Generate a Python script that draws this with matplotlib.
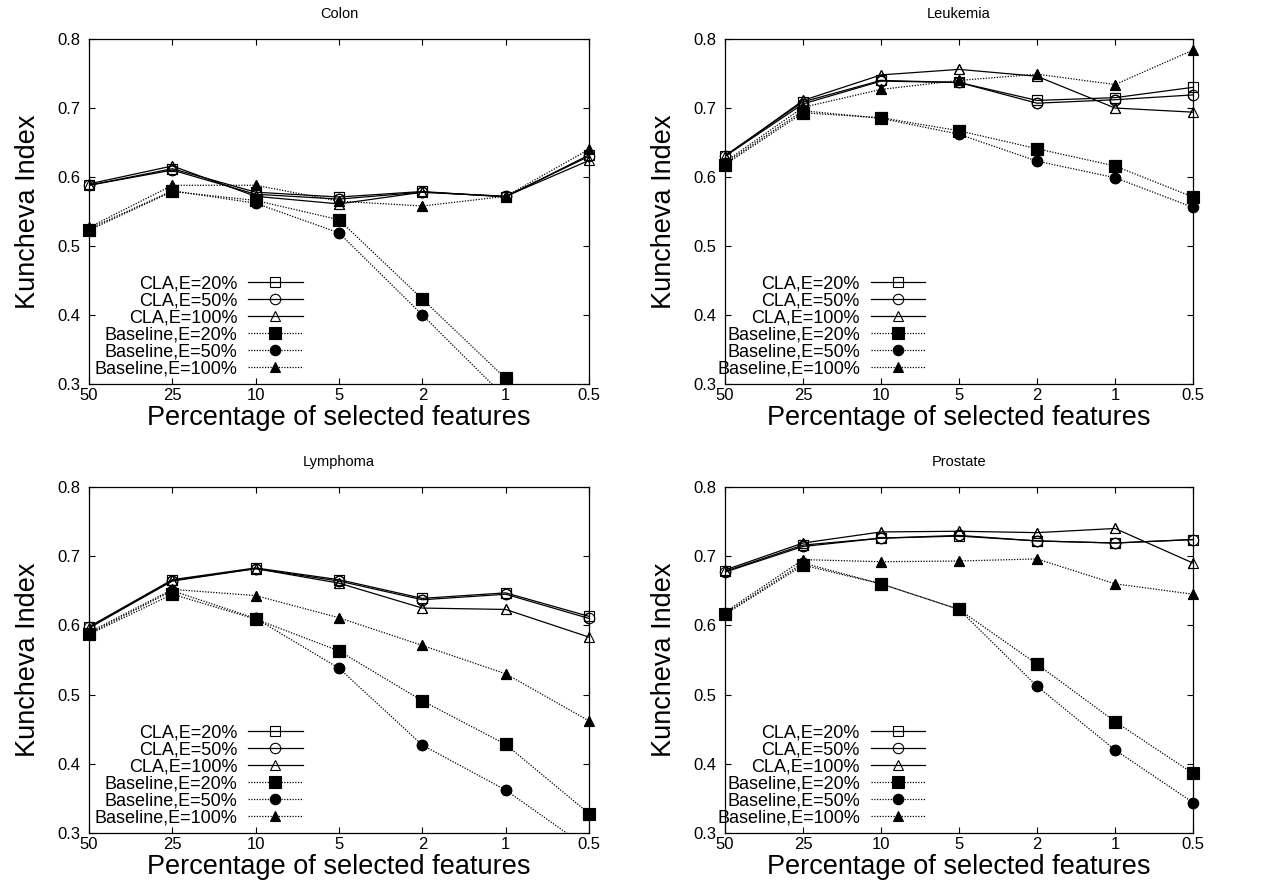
import matplotlib
matplotlib.use('Agg')
import matplotlib.pyplot as plt

plt.rcParams['font.family'] = ['Liberation Sans', 'DejaVu Sans']

# x axis: percentage of selected features
pct_labels = ['50', '25', '10', '5', '2', '1', '0.5']

series_labels = ['CLA,E=20%', 'CLA,E=50%', 'CLA,E=100%',
                 'Baseline,E=20%', 'Baseline,E=50%', 'Baseline,E=100%']

# Colon
colon_cla20 = [0.588, 0.612, 0.578, 0.571, 0.579, 0.571, 0.632]
colon_cla50 = [0.588, 0.610, 0.575, 0.568, 0.578, 0.572, 0.630]
colon_cla100 = [0.590, 0.616, 0.572, 0.561, 0.578, 0.572, 0.624]
colon_base20 = [0.523, 0.579, 0.566, 0.538, 0.423, 0.308, 0.210]
colon_base50 = [0.525, 0.580, 0.562, 0.519, 0.400, 0.280, 0.180]
colon_base100 = [0.527, 0.588, 0.588, 0.565, 0.558, 0.572, 0.640]

# Leukemia
leuk_cla20 = [0.631, 0.709, 0.740, 0.737, 0.711, 0.715, 0.730]
leuk_cla50 = [0.630, 0.706, 0.739, 0.737, 0.707, 0.712, 0.719]
leuk_cla100 = [0.630, 0.711, 0.748, 0.756, 0.746, 0.700, 0.694]
leuk_base20 = [0.618, 0.693, 0.686, 0.667, 0.641, 0.616, 0.571]
leuk_base50 = [0.620, 0.696, 0.685, 0.662, 0.623, 0.599, 0.556]
leuk_base100 = [0.622, 0.701, 0.727, 0.740, 0.749, 0.734, 0.784]

# Lymphoma
lymph_cla20 = [0.598, 0.666, 0.683, 0.666, 0.639, 0.647, 0.613]
lymph_cla50 = [0.597, 0.664, 0.682, 0.664, 0.637, 0.645, 0.610]
lymph_cla100 = [0.596, 0.665, 0.682, 0.661, 0.625, 0.623, 0.583]
lymph_base20 = [0.587, 0.645, 0.609, 0.563, 0.491, 0.428, 0.328]
lymph_base50 = [0.588, 0.650, 0.610, 0.538, 0.427, 0.362, 0.277]
lymph_base100 = [0.590, 0.652, 0.643, 0.611, 0.571, 0.530, 0.462]

# Prostate
prost_cla20 = [0.678, 0.716, 0.726, 0.729, 0.722, 0.719, 0.724]
prost_cla50 = [0.677, 0.714, 0.726, 0.730, 0.722, 0.719, 0.724]
prost_cla100 = [0.680, 0.719, 0.735, 0.736, 0.734, 0.740, 0.690]
prost_base20 = [0.616, 0.687, 0.660, 0.623, 0.544, 0.461, 0.386]
prost_base50 = [0.617, 0.690, 0.660, 0.623, 0.512, 0.420, 0.344]
prost_base100 = [0.619, 0.695, 0.692, 0.693, 0.696, 0.660, 0.645]

panels = [
    ('Colon', [colon_cla20, colon_cla50, colon_cla100, colon_base20, colon_base50, colon_base100]),
    ('Leukemia', [leuk_cla20, leuk_cla50, leuk_cla100, leuk_base20, leuk_base50, leuk_base100]),
    ('Lymphoma', [lymph_cla20, lymph_cla50, lymph_cla100, lymph_base20, lymph_base50, lymph_base100]),
    ('Prostate', [prost_cla20, prost_cla50, prost_cla100, prost_base20, prost_base50, prost_base100]),
]

# marker, filled, markersize, linestyle
styles = [
    ('s', False, 7.5, '-'),
    ('o', False, 7.5, '-'),
    ('^', False, 7.5, '-'),
    ('s', True, 8.5, (0, (1, 1.2))),
    ('o', True, 7.5, (0, (1, 1.2))),
    ('^', True, 7.5, (0, (1, 1.2))),
]

# axes rectangles in figure fractions (left, bottom, width, height)
rects = [
    (0.0701, 0.5700, 0.3937, 0.3863),
    (0.5709, 0.5700, 0.3685, 0.3863),
    (0.0701, 0.0672, 0.3937, 0.3875),
    (0.5709, 0.0672, 0.3685, 0.3875),
]

YMIN, YMAX = 0.3, 0.8

fig = plt.figure(figsize=(12.7, 8.93), dpi=100)

for (title, values), rect in zip(panels, rects):
    ax = fig.add_axes(rect)
    x = list(range(len(pct_labels)))
    for vals, label, (mk, filled, ms, ls) in zip(values, series_labels, styles):
        face = 'black' if filled else 'none'
        ax.plot(x, vals, color='black', linewidth=0.9, linestyle=ls,
                marker=mk, markersize=ms, markerfacecolor=face,
                markeredgecolor='black', markeredgewidth=0.8, label=label)
        # gnuplot does not clip points sitting on the border
        vis = [(xi, v) for xi, v in zip(x, vals) if YMIN <= v <= YMAX]
        ax.plot([p[0] for p in vis], [p[1] for p in vis], linestyle='none',
                marker=mk, markersize=ms, markerfacecolor=face,
                markeredgecolor='black', markeredgewidth=0.8, clip_on=False)

    ax.set_xlim(0, len(pct_labels) - 1)
    ax.set_ylim(YMIN, YMAX)
    ax.set_xticks(x)
    ax.set_xticklabels(pct_labels)
    ax.set_yticks([0.3, 0.4, 0.5, 0.6, 0.7, 0.8])
    ax.set_yticklabels(['0.3', '0.4', '0.5', '0.6', '0.7', '0.8'])
    ax.tick_params(direction='in', top=True, right=True, length=4.5,
                   width=0.8, labelsize=12, pad=6)
    ax.tick_params(axis='x', pad=3)
    for sp in ax.spines.values():
        sp.set_linewidth(0.9)

    ax.set_title(title, fontsize=10.5, pad=15)
    ax.set_xlabel('Percentage of selected features', fontsize=19.5, labelpad=1)
    ax.set_ylabel('Kuncheva Index', fontsize=19.5, labelpad=12)

    ax.legend(loc='lower right', bbox_to_anchor=(0.427, 0.02),
              frameon=False, markerfirst=False, fontsize=13,
              handlelength=3.0, handletextpad=0.6, labelspacing=0.0,
              borderpad=0, borderaxespad=0)

fig.savefig('out.png', dpi=100)
